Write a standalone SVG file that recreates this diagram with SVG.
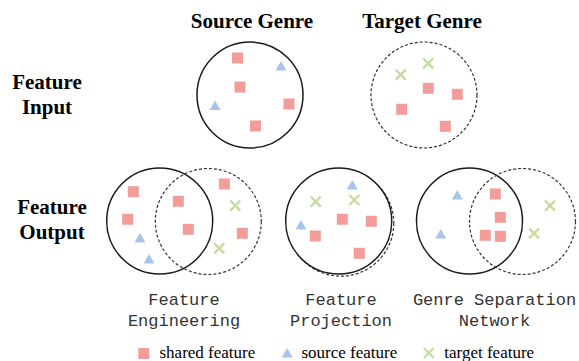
<svg xmlns="http://www.w3.org/2000/svg" width="579" height="361" viewBox="0 0 579 361">
<defs>
<style>
.t{font-family:"Liberation Serif","Times New Roman",serif;font-weight:bold;font-size:21px;fill:#000;text-anchor:middle}
.m{font-family:"Liberation Mono","Courier New",monospace;font-size:17px;fill:#333;text-anchor:middle}
.l{font-family:"Liberation Serif","Times New Roman",serif;font-size:17px;fill:#000}
.sol{fill:none;stroke:#1a1a1a;stroke-width:1.5}
.das{fill:none;stroke:#333;stroke-width:1.2;stroke-dasharray:3 2}
.sq{fill:#f29d9a}
.tr{fill:#a9c4ec}
.x{stroke:#c8dca0;stroke-width:2.4;fill:none}
</style>
<rect id="S" class="sq" x="-5.5" y="-5.5" width="11" height="11"/>
<polygon id="T" class="tr" points="0,-5 5.5,4.5 -5.5,4.5"/>
<path id="X" class="x" d="M-5,-5L5,5M5,-5L-5,5"/>
</defs>
<rect width="579" height="361" fill="#fff"/>

<g id="labels">
<text class="t" x="252" y="28">Source Genre</text>
<text class="t" x="422" y="28">Target Genre</text>
<text class="t" x="47" y="89">Feature</text>
<text class="t" x="47" y="114">Input</text>
<text class="t" x="52" y="214">Feature</text>
<text class="t" x="52" y="239">Output</text>
<text class="m" x="184" y="305">Feature</text>
<text class="m" x="184" y="326">Engineering</text>
<text class="m" x="341" y="305">Feature</text>
<text class="m" x="341" y="326">Projection</text>
<text class="m" x="494.5" y="305">Genre Separation</text>
<text class="m" x="494.5" y="326">Network</text>
</g>

<g id="source-genre">
<circle class="sol" cx="250" cy="95" r="53"/>
<use href="#S" x="237.5" y="58"/>
<use href="#S" x="240" y="87"/>
<use href="#S" x="289" y="104"/>
<use href="#S" x="255.5" y="126"/>
<use href="#T" x="281" y="66"/>
<use href="#T" x="215" y="105.5"/>
</g>

<g id="target-genre">
<circle class="das" cx="424" cy="95" r="53"/>
<use href="#X" x="428.3" y="63.3"/>
<use href="#X" x="400.7" y="74.7"/>
<use href="#S" x="428.3" y="88.3"/>
<use href="#S" x="457.3" y="94.3"/>
<use href="#S" x="401.7" y="109.3"/>
<use href="#S" x="445.3" y="126.3"/>
</g>

<g id="feature-engineering">
<circle class="sol" cx="159.7" cy="221" r="53"/>
<circle class="das" cx="208.3" cy="221.5" r="53"/>
<use href="#S" x="133.3" y="191.7"/>
<use href="#S" x="127.7" y="219.3"/>
<use href="#S" x="178.3" y="201.3"/>
<use href="#S" x="188.3" y="229.3"/>
<use href="#S" x="224.3" y="184"/>
<use href="#S" x="242.3" y="233.3"/>
<use href="#X" x="235.3" y="205.7"/>
<use href="#X" x="219.3" y="248.3"/>
<use href="#T" x="140" y="238"/>
<use href="#T" x="149" y="259"/>
</g>

<g id="feature-projection">
<circle class="das" cx="340.8" cy="223.2" r="53"/>
<circle class="sol" cx="338.7" cy="221" r="53" fill="#fff" style="fill:#fff"/>
<use href="#T" x="352.3" y="185"/>
<use href="#X" x="315.7" y="201.7"/>
<use href="#X" x="354.3" y="200"/>
<use href="#T" x="301" y="225"/>
<use href="#S" x="342.3" y="219.3"/>
<use href="#S" x="371.3" y="221.3"/>
<use href="#S" x="315.3" y="236"/>
<use href="#S" x="359.3" y="253.3"/>
</g>

<g id="genre-separation-network">
<circle class="sol" cx="469.5" cy="221" r="53"/>
<circle class="das" cx="522.5" cy="221.5" r="53"/>
<use href="#T" x="457.3" y="195"/>
<use href="#T" x="440.7" y="234"/>
<use href="#S" x="495.3" y="194"/>
<use href="#S" x="500.3" y="217.3"/>
<use href="#S" x="485.3" y="235.3"/>
<use href="#S" x="500.3" y="236.3"/>
<use href="#X" x="550" y="205.7"/>
<use href="#X" x="534" y="233.3"/>
</g>

<g id="legend">
<use href="#S" x="143.8" y="353.5"/>
<text class="l" x="159.5" y="358">shared feature</text>
<use href="#T" x="287.2" y="353"/>
<text class="l" x="301.5" y="358">source feature</text>
<use href="#X" x="428.8" y="353"/>
<text class="l" x="444.3" y="358">target feature</text>
</g>
</svg>
